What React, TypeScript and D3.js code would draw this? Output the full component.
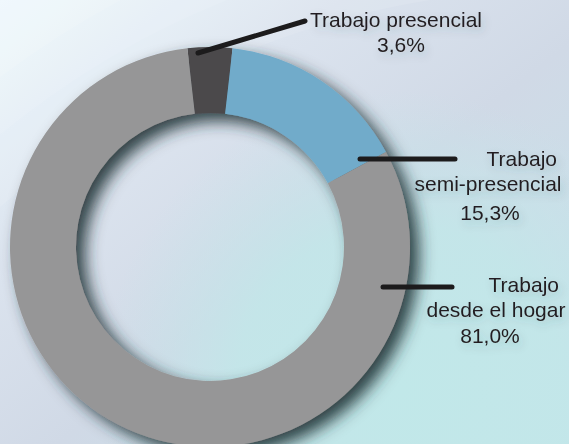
import * as d3 from "d3";

// shares of each working mode, in %
const categories = ["Trabajo presencial", "Trabajo semi-presencial", "Trabajo desde el hogar"];
const shares = [3.6, 15.3, 81.0];
const sliceColors = ["#4b494c", "#71abca", "#969697"];
const labelNames = [["Trabajo presencial"], ["Trabajo", "semi-presencial"], ["Trabajo", "desde el hogar"]];

const W = 569;
const H = 444;
const cx = 210;
const cy = 247;
const outerR = 200;
const innerR = 134;
const startDeg = -6.5;

// label layout: one entry per text line [x, baseline, anchor]
const labelLayout: [number, number, string][][] = [
  [[396, 27, "middle"], [401, 52, "middle"]],
  [[557, 166, "end"], [488, 191, "middle"], [490, 220, "middle"]],
  [[559, 292, "end"], [496, 317, "middle"], [490, 343, "middle"]],
];
// leader lines [x1, y1, x2, y2]
const leaders = [
  [198, 53, 305, 21],
  [360, 159, 455, 159],
  [383, 287, 452, 287],
];

const fmt = (v: number) => d3.format(".1f")(v).replace(".", ",") + "%";

export default function App() {
  const start = (startDeg * Math.PI) / 180;
  const pie = d3
    .pie<number>()
    .sort(null)
    .startAngle(start)
    .endAngle(start + 2 * Math.PI);
  const arcs = pie(shares);
  const arc = d3.arc<d3.PieArcDatum<number>>().innerRadius(innerR).outerRadius(outerR);

  const swirls = [930, 885, 830];

  return (
    <svg
      width={W}
      height={H}
      style={{ position: "fixed", left: 0, top: 0, display: "block" }}
      fontFamily="'Liberation Sans', Arial, sans-serif"
    >
      <defs>
        <linearGradient id="bg" x1="0" y1="0" x2="1" y2="1">
          <stop offset="0" stopColor="#ecf8fd" />
          <stop offset="0.3" stopColor="#dbe3ee" />
          <stop offset="0.55" stopColor="#d0d9e6" />
          <stop offset="1" stopColor="#c4e4ea" />
        </linearGradient>
        <radialGradient id="cyan" cx="400" cy="390" r="300" gradientUnits="userSpaceOnUse">
          <stop offset="0" stopColor="#c1e8e9" stopOpacity="1" />
          <stop offset="0.55" stopColor="#c2e7e9" stopOpacity="0.85" />
          <stop offset="1" stopColor="#c6e4ea" stopOpacity="0" />
        </radialGradient>
        <filter id="ringShadow" x="-20%" y="-20%" width="140%" height="140%">
          <feDropShadow dx="9" dy="8" stdDeviation="8" floodColor="#1e3034" floodOpacity="0.9" />
        </filter>
        <filter id="textShadow" x="-20%" y="-50%" width="140%" height="200%">
          <feDropShadow dx="2" dy="4" stdDeviation="4" floodColor="#3a4a55" floodOpacity="0.22" />
        </filter>
      </defs>

      <rect width={W} height={H} fill="url(#bg)" />
      <rect width={W} height={H} fill="url(#cyan)" />
      {swirls.map((r) => (
        <circle
          key={r}
          cx={560}
          cy={820}
          r={r + 400}
          fill="none"
          stroke="#ffffff"
          strokeWidth={800}
          opacity={0.1}
        />
      ))}

      <g transform={`translate(${cx},${cy})`} filter="url(#ringShadow)">
        {arcs.map((a, i) => (
          <path key={categories[i]} d={arc(a) ?? ""} fill={sliceColors[i]} />
        ))}
      </g>

      {leaders.map(([x1, y1, x2, y2], i) => (
        <line
          key={i}
          x1={x1}
          y1={y1}
          x2={x2}
          y2={y2}
          stroke="#1c1b1c"
          strokeWidth={5}
          strokeLinecap="round"
        />
      ))}

      <g filter="url(#textShadow)" fill="#231f20" fontSize={21}>
        {labelNames.map((names, i) => {
          const lines = [...names, fmt(shares[i])];
          return lines.map((t, j) => {
            const [x, y, anchor] = labelLayout[i][j];
            return (
              <text key={`${i}-${j}`} x={x} y={y} textAnchor={anchor as any}>
                {t}
              </text>
            );
          });
        })}
      </g>
    </svg>
  );
}
